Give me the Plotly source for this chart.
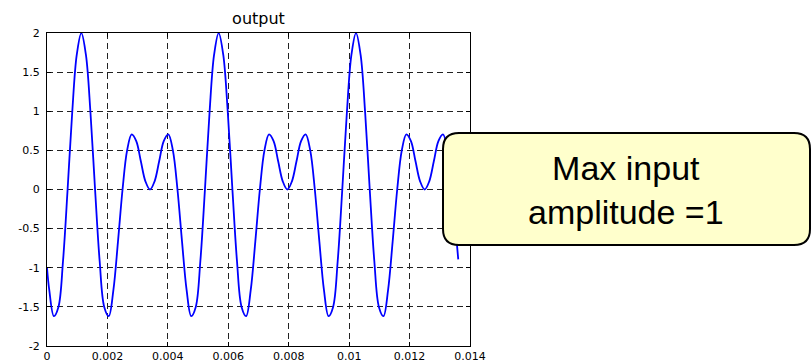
import plotly.graph_objects as go

# sample times (s)
t = [0.0, 0.0000758, 0.0002273, 0.0003788, 0.0005303, 0.0006818, 0.0008333, 0.0009848,
     0.0011364, 0.0012879, 0.0014394, 0.0015909, 0.0017424, 0.0018939, 0.0020455, 0.002197,
     0.0023485, 0.0025, 0.0026515, 0.002803, 0.0029545, 0.0031061, 0.0032576, 0.0034091,
     0.0035606, 0.0037121, 0.0038636, 0.0040152, 0.0041667, 0.0043182, 0.0044697, 0.0046212,
     0.0047727, 0.0049242, 0.0050758, 0.0052273, 0.0053788, 0.0055303, 0.0056818, 0.0058333,
     0.0059848, 0.0061364, 0.0062879, 0.0064394, 0.0065909, 0.0067424, 0.0068939, 0.0070455,
     0.007197, 0.0073485, 0.0075, 0.0076515, 0.007803, 0.0079545, 0.0081061, 0.0082576,
     0.0084091, 0.0085606, 0.0087121, 0.0088636, 0.0090152, 0.0091667, 0.0093182, 0.0094697,
     0.0096212, 0.0097727, 0.0099242, 0.0100758, 0.0102273, 0.0103788, 0.0105303, 0.0106818,
     0.0108333, 0.0109848, 0.0111364, 0.0112879, 0.0114394, 0.0115909, 0.0117424, 0.0118939,
     0.0120455, 0.012197, 0.0123485, 0.0125, 0.0126515, 0.012803, 0.0129545, 0.0131061,
     0.0132576, 0.0134091, 0.0135606, 0.013611]

# output values
output = [-1.0, -1.2871, -1.618, -1.5, -0.9135, 0.0, 0.9781, 1.7225,
          2.0, 1.7225, 0.9781, 0.0, -0.9135, -1.5, -1.618, -1.2871,
          -0.6691, 0.0, 0.5, 0.7045, 0.618, 0.3601, 0.1045, 0.0,
          0.1045, 0.3601, 0.618, 0.7045, 0.5, 0.0, -0.6691, -1.2871,
          -1.618, -1.5, -0.9135, 0.0, 0.9781, 1.7225,
          2.0, 1.7225, 0.9781, 0.0, -0.9135, -1.5, -1.618, -1.2871,
          -0.6691, 0.0, 0.5, 0.7045, 0.618, 0.3601, 0.1045, 0.0,
          0.1045, 0.3601, 0.618, 0.7045, 0.5, 0.0, -0.6691, -1.2871,
          -1.618, -1.5, -0.9135, 0.0, 0.9781, 1.7225,
          2.0, 1.7225, 0.9781, 0.0, -0.9135, -1.5, -1.618, -1.2871,
          -0.6691, 0.0, 0.5, 0.7045, 0.618, 0.3601, 0.1045, 0.0,
          0.1045, 0.3601, 0.618, 0.7045, 0.5, 0.0, -0.6691, -0.893]

x_ticks = [0, 0.002, 0.004, 0.006, 0.008, 0.01, 0.012, 0.014]
x_tick_labels = ["0", "0.002", "0.004", "0.006", "0.008", "0.01", "0.012", "0.014"]
y_ticks = [-2, -1.5, -1, -0.5, 0, 0.5, 1, 1.5, 2]
y_tick_labels = ["-2", "-1.5", "-1", "-0.5", "0", "0.5", "1", "1.5", "2"]

title_text = "output"
callout_text = "Max input<br>amplitude =1"

W, H = 812, 363
L, R, T, B = 47, 342, 33, 17
pw, ph = W - L - R, H - T - B

fig = go.Figure()
fig.add_trace(go.Scatter(x=t, y=output, mode="lines",
                         line=dict(color="#0000FF", width=1.8, shape="spline", smoothing=1.0),
                         showlegend=False, hoverinfo="skip"))

axis_common = dict(showline=True, linecolor="black", linewidth=1, mirror="ticks",
                   ticks="inside", ticklen=4, tickcolor="black",
                   showgrid=True, gridcolor="#222222", gridwidth=1, griddash="6px,4px",
                   zeroline=False, automargin=False,
                   tickfont=dict(family="DejaVu Sans", size=11, color="black"))

fig.update_xaxes(range=[0, 0.014], tickvals=x_ticks, ticktext=x_tick_labels,
                 ticklabelstandoff=0, **axis_common)
fig.update_yaxes(range=[-2, 2], tickvals=y_ticks, ticktext=y_tick_labels,
                 ticklabelstandoff=4, **axis_common)

# rounded callout box (paper coordinates)
def px2paper_x(px):
    return (px - L) / pw

def py2paper_y(py):
    return (H - B - py) / ph

x0, x1 = px2paper_x(443), px2paper_x(810)
y0, y1 = py2paper_y(245), py2paper_y(133)
rx, ry = 16 / pw, 16 / ph
path = (f"M {x0+rx},{y1} L {x1-rx},{y1} Q {x1},{y1} {x1},{y1-ry} "
        f"L {x1},{y0+ry} Q {x1},{y0} {x1-rx},{y0} L {x0+rx},{y0} "
        f"Q {x0},{y0} {x0},{y0+ry} L {x0},{y1-ry} Q {x0},{y1} {x0+rx},{y1} Z")
fig.add_shape(type="path", path=path, xref="paper", yref="paper",
              fillcolor="#FFFFCC", line=dict(color="black", width=2), layer="above")

fig.add_annotation(text=callout_text, xref="paper", yref="paper",
                   x=px2paper_x(626), y=py2paper_y(190), xanchor="center", yanchor="middle",
                   showarrow=False, align="center",
                   font=dict(family="Liberation Sans, Arial", size=34, color="black"))

fig.update_layout(
    width=W, height=H,
    margin=dict(l=L, r=R, t=T, b=B, autoexpand=False),
    paper_bgcolor="white", plot_bgcolor="white",
    title=dict(text=title_text, x=(L + pw / 2) / W, xanchor="center",
               y=1 - 18 / H, yanchor="middle", yref="container",
               font=dict(family="DejaVu Sans", size=16, color="black")),
)

fig.write_html("out.html")
